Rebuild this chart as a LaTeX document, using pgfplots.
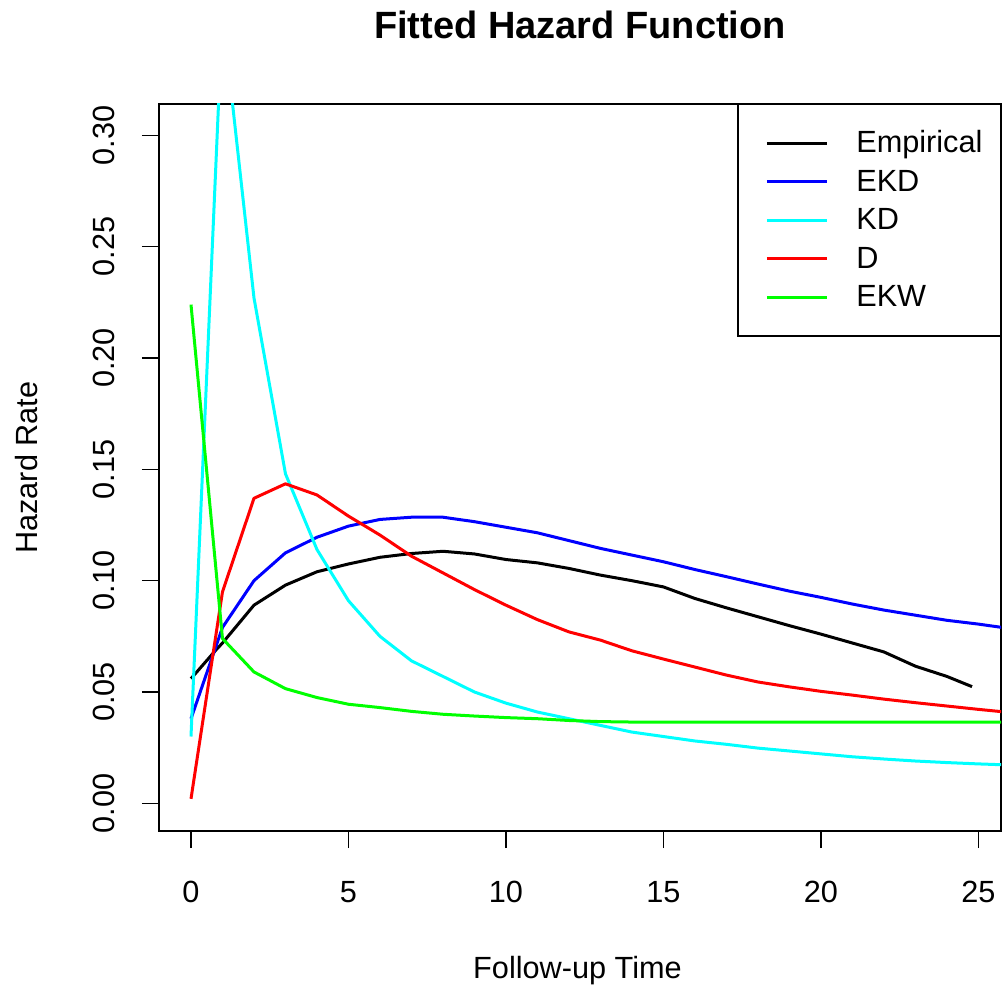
\documentclass[border=0pt]{standalone}
\usepackage{fontspec}
\setmainfont{Liberation Sans}
\usepackage{pgfplots}
\pgfplotsset{compat=1.18}
\definecolor{rblue}{RGB}{0,0,255}
\definecolor{rcyan}{RGB}{0,255,255}
\definecolor{rred}{RGB}{255,0,0}
\definecolor{rgreen}{RGB}{0,255,0}
\newcommand{\lblfont}{\fontsize{23}{27}\selectfont}
\begin{document}
\begin{tikzpicture}
\begin{axis}[
  scale only axis, width=631.5pt, height=545.25pt,
  xmin=-1.016, xmax=25.72, ymin=-0.01244, ymax=0.3141,
  axis line style={line width=1.1pt},
  xtick={0,5,10,15,20,25}, xticklabels={0,5,10,15,20,25},
  ytick={0,0.05,0.10,0.15,0.20,0.25,0.30},
  yticklabels={0.00,0.05,0.10,0.15,0.20,0.25,0.30},
  xtick pos=left, ytick pos=left,
  tick align=outside, major tick length=12.75pt,
  tick style={line width=1.1pt, black},
  xticklabel style={anchor=base, font=\lblfont, inner sep=0pt},
  xticklabel shift=40.5pt,
  yticklabel style={anchor=base, rotate=90, font=\lblfont, inner sep=0pt},
  yticklabel shift=20.25pt,
  xlabel={Follow-up Time},
  xlabel style={at={(rel axis cs:0.497,-0.2022)}, anchor=base, font=\lblfont, inner sep=0pt},
  ylabel={Hazard Rate},
  ylabel style={at={(rel axis cs:-0.1437,0.5)}, anchor=base, font=\lblfont, inner sep=0pt},
  title={Fitted Hazard Function},
  title style={at={(rel axis cs:0.5,1.0784)}, anchor=base, font=\fontsize{28.5}{34}\selectfont\bfseries, inner sep=0pt},
  legend style={at={(rel axis cs:1,1)}, anchor=north east, draw=black, line width=1.1pt,
    font=\lblfont, inner xsep=13.4pt, inner ysep=18.8pt, row sep=8.95pt,
    nodes={inner sep=0pt, text height=17pt, text depth=3pt},
    /tikz/every odd column/.append style={column sep=21pt}},
  legend cell align=left,
  legend image code/.code={\path[draw=none] (-8.35pt,0pt) -- (45pt,0pt); \draw[#1, line width=2.25pt] (0pt,0pt) -- (45pt,0pt);},
  every axis plot/.append style={line width=2.25pt, line join=round},
]
\addplot[black] coordinates {
(0,0.056) (0.8,0.069) (1,0.072) (2,0.089) (3,0.098) (4,0.104) (5,0.1075) (6,0.1105)
(7,0.1122) (8,0.1132) (9,0.112) (10,0.1095) (11,0.108) (12,0.1055) (13,0.1025) (14,0.100)
(15,0.0972) (16,0.092) (17,0.0878) (18,0.0838) (19,0.0798) (20,0.076) (21,0.072) (22,0.068)
(23,0.0616) (24,0.057) (24.8,0.0524)};
\addlegendentry{Empirical}
\addplot[rblue] coordinates {
(0,0.038) (1,0.079) (2,0.100) (3,0.1125) (4,0.1195) (5,0.1245) (6,0.1275) (7,0.1285)
(8,0.1285) (9,0.1265) (10,0.1240) (11,0.1215) (12,0.1180) (13,0.1145) (14,0.1115) (15,0.1085)
(16,0.1050) (17,0.1018) (18,0.0985) (19,0.0953) (20,0.0925) (21,0.0895) (22,0.0868) (23,0.0845)
(24,0.0822) (25,0.0805) (26,0.0785)};
\addlegendentry{EKD}
\addplot[rcyan] coordinates {
(0,0.030) (1,0.355) (2,0.227) (3,0.148) (4,0.114) (5,0.091) (6,0.075) (7,0.064)
(8,0.057) (9,0.050) (10,0.045) (11,0.041) (12,0.038) (13,0.035) (14,0.032) (15,0.030)
(16,0.028) (17,0.0265) (18,0.0248) (19,0.0235) (20,0.0222) (21,0.0209) (22,0.0199) (23,0.0190)
(24,0.0183) (25,0.0177) (26,0.0172)};
\addlegendentry{KD}
\addplot[rred] coordinates {
(0,0.002) (1,0.095) (2,0.137) (3,0.1435) (4,0.1385) (5,0.129) (6,0.1205) (7,0.111)
(8,0.1035) (9,0.096) (10,0.089) (11,0.0825) (12,0.077) (13,0.0733) (14,0.0685) (15,0.0648)
(16,0.0612) (17,0.0576) (18,0.0545) (19,0.0523) (20,0.0503) (21,0.0486) (22,0.0468) (23,0.0452)
(24,0.0437) (25,0.0422) (26,0.0408)};
\addlegendentry{D}
\addplot[rgreen] coordinates {
(0,0.224) (1,0.074) (2,0.059) (3,0.0515) (4,0.0475) (5,0.0445) (6,0.043) (7,0.0413)
(8,0.040) (9,0.0392) (10,0.0385) (11,0.038) (12,0.0372) (13,0.0367) (14,0.0365) (15,0.0365)
(16,0.0365) (17,0.0365) (18,0.0365) (19,0.0365) (20,0.0365) (21,0.0365) (22,0.0365) (23,0.0365)
(24,0.0365) (25,0.0365) (26,0.0365)};
\addlegendentry{EKW}
\end{axis}
\pgfresetboundingbox
\path ([shift={(-119.25pt,-119.25pt)}]current axis.south west) rectangle ([shift={(0.75pt,78pt)}]current axis.north east);
\end{tikzpicture}
\end{document}
